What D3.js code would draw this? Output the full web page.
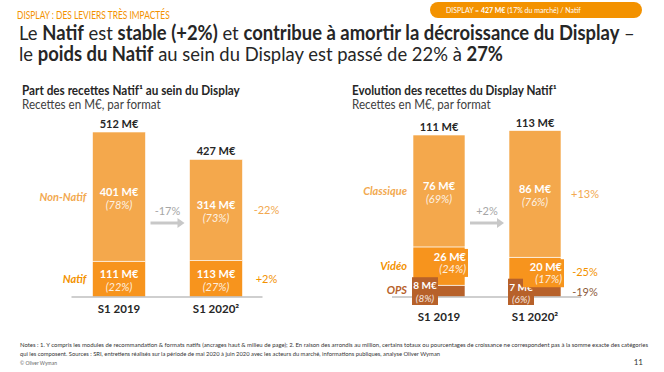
<!DOCTYPE html>
<html>
<head>
<meta charset="utf-8">
<script src="https://cdn.jsdelivr.net/npm/d3@7"></script>
<style>
  body { margin: 0; background: #fff; }
  svg { font-family: Lato, "Open Sans", sans-serif; }
</style>
</head>
<body>
<svg id="chart" width="664" height="372"></svg>
<script>
// ---------------- data ----------------
var categories = ["S1 2019", "S1 2020"];

// left chart : part du Natif
var natif = [111, 113];
var natifPct = ["22%", "27%"];
var nonNatif = [401, 314];
var nonNatifPct = ["78%", "73%"];
var leftTotals = ["512 M€", "427 M€"];
var leftGrowth = "-17%";
var nonNatifGrowth = "-22%";
var natifGrowth = "+2%";

// right chart : évolution du Natif par format
var ops = [8, 7];
var opsPct = ["8%", "6%"];
var video = [26, 20];
var videoPct = ["24%", "17%"];
var classique = [76, 86];
var classiquePct = ["69%", "76%"];
var rightTotals = ["111 M€", "113 M€"];
var rightGrowth = "+2%";
var classiqueGrowth = "+13%";
var videoGrowth = "-25%";
var opsGrowth = "-19%";

var footNotes = [
  "Notes : 1. Y compris les modules de recommandation & formats natifs (ancrages haut & milieu de page); 2. En raison des arrondis au million, certains totaux ou pourcentages de croissance ne correspondent pas à la somme exacte des catégories",
  "qui les composent. Sources : SRI, entretiens réalisés sur la période de mai 2020 à juin 2020 avec les acteurs du marché, informations publiques, analyse Oliver Wyman"
];

// colours
var cLight = "#F4A84C", cMid = "#F7941D", cDark = "#B7612A";
var cHead = "#F39200", cText = "#262626", cGrey = "#A6A6A6";

var svg = d3.select("#chart");

// text squeezed horizontally only (Lato is wider than the original Calibri)
function squeezed(parent, x, y, sx) {
  return parent.append("text")
    .attr("transform", "translate(" + x + "," + y + ") scale(" + sx + ",1)");
}

// ---------------- header ----------------
squeezed(svg, 17, 19, 0.8)
  .style("font-size", "10.5px").style("fill", cHead)
  .text("DISPLAY : DES LEVIERS TRÈS IMPACTÉS");

var pill = svg.append("g");
pill.append("rect").attr("x", 430).attr("y", 2).attr("width", 212).attr("height", 16)
  .attr("rx", 8).style("fill", cHead);
var pt = pill.append("text").attr("x", 446).attr("y", 13)
  .style("font-size", "7px").style("fill", "#fff");
pt.append("tspan").text("DISPLAY = ");
pt.append("tspan").style("font-weight", "bold").text("427 M€");
pt.append("tspan").text(" (17% du marché) / Natif");

// title, bold parts as tspans
var titleLines = [
  [["Le ", 0], ["Natif", 1], [" est ", 0], ["stable (+2%)", 1], [" et ", 0], ["contribue à amortir la décroissance du Display", 1], [" –", 0]],
  [["le ", 0], ["poids du Natif", 1], [" au sein du Display est passé de 22% à ", 0], ["27%", 1]]
];
var titleNodes = titleLines.map(function (line, i) {
  var t = svg.append("text")
    .style("font-size", "20px").style("fill", cText);
  line.forEach(function (p) {
    t.append("tspan").style("font-weight", p[1] ? "bold" : "normal").text(p[0]);
  });
  return t;
});
// one common horizontal factor so line 1 spans the same width as the reference
var titleSx = 616 / titleNodes[0].node().getComputedTextLength();
titleNodes.forEach(function (t, i) {
  t.attr("transform", "translate(19," + (40 + i * 21) + ") scale(" + titleSx + ",1)");
});

// ---------------- generic stacked chart ----------------
function drawStack(o) {
  var g = svg.append("g");

  // subtitles
  var st = squeezed(g, o.titleX, 95, 1)
    .style("font-size", "12.5px").style("font-weight", "bold").style("fill", cText)
    .text(o.title);
  st.attr("transform", "translate(" + o.titleX + ",95) scale(" + (o.titleW / st.node().getComputedTextLength()) + ",1)");
  squeezed(g, o.titleX, 109, 0.93)
    .style("font-size", "12.5px").style("fill", "#404040")
    .text("Recettes en M€, par format");

  var x = d3.scalePoint().domain(categories).range(o.xRange);
  var y = d3.scaleLinear().domain([0, o.yMax]).range([o.base, o.top]);
  var bw = o.barW;

  var stack = d3.stack().keys(o.series.map(function (s) { return s.key; }));
  var table = categories.map(function (c, i) {
    var row = { cat: c };
    o.series.forEach(function (s) { row[s.key] = s.values[i]; });
    return row;
  });
  var layers = stack(table);

  layers.forEach(function (layer, li) {
    var s = o.series[li];
    g.selectAll(null).data(layer).enter().append("rect")
      .attr("x", function (d) { return x(d.data.cat) - bw / 2; })
      .attr("y", function (d) { return y(d[1]); })
      .attr("width", bw)
      .attr("height", function (d) { return y(d[0]) - y(d[1]); })
      .style("fill", s.color)
      .style("stroke", "#fff").style("stroke-width", 0.6);
  });

  // axis line (under the label boxes)
  g.append("line")
    .attr("x1", x(categories[0]) - bw / 2 - 21).attr("x2", x(categories[1]) + bw / 2 + 20)
    .attr("y1", o.base).attr("y2", o.base)
    .style("stroke", "#BFBFBF").style("stroke-width", 1.5);

  // value labels (after all rects so boxes sit on top)
  layers.forEach(function (layer, li) {
    var s = o.series[li];
    layer.forEach(function (d, i) {
      var cx = x(d.data.cat), top = y(d[1]), bot = y(d[0]);
      var mid = (top + bot) / 2;
      var l1, l2, anchor, tx, fs = 11;
      if (s.mode === "right") {
        g.append("rect").attr("x", cx + bw / 2 - 38).attr("y", top + 2)
          .attr("width", 41).attr("height", 28).style("fill", s.color);
        anchor = "end"; tx = cx + bw / 2 + 1; l1 = top + 14; l2 = top + 26;
      } else if (s.mode === "left") {
        g.append("rect").attr("x", cx - bw / 2 - 1).attr("y", top - 8)
          .attr("width", 26).attr("height", o.base - top + 16).style("fill", s.color);
        anchor = "middle"; tx = cx - bw / 2 + 12; l1 = top + 4; l2 = top + 16.5; fs = 10;
      } else {
        anchor = "middle"; tx = cx; l1 = mid - 1; l2 = mid + 12;
      }
      g.append("text").attr("x", tx).attr("y", l1).attr("text-anchor", anchor)
        .style("font-size", fs + "px").style("font-weight", "bold").style("fill", "#fff")
        .text(s.values[i] + " M€");
      g.append("text").attr("x", tx).attr("y", l2).attr("text-anchor", anchor)
        .style("font-size", fs + "px").style("font-style", "italic").style("fill", "#fff")
        .style("opacity", 0.85)
        .text("(" + s.pcts[i] + ")");
    });

    // row label on the left of first bar
    var first = layer[0], last = layer[layer.length - 1];
    g.append("text")
      .attr("x", x(categories[0]) - bw / 2 - 6)
      .attr("y", (y(first[0]) + y(first[1])) / 2 + 4 + (s.labelDy || 0))
      .attr("text-anchor", "end")
      .style("font-size", "11px").style("font-weight", "bold").style("font-style", "italic")
      .style("fill", s.labelColor)
      .text(s.label);

    // growth on the right of last bar
    g.append("text")
      .attr("x", x(categories[categories.length - 1]) + bw / 2 + 24)
      .attr("y", (y(last[0]) + y(last[1])) / 2 + 4 + (s.growthDy || 0))
      .attr("text-anchor", "middle")
      .style("font-size", "11px").style("fill", s.growthColor)
      .text(s.growth);
  });

  // totals above bars
  g.selectAll(null).data(layers[layers.length - 1]).enter().append("text")
    .attr("x", function (d) { return x(d.data.cat); })
    .attr("y", function (d) { return y(d[1]) - 4; })
    .attr("text-anchor", "middle")
    .style("font-size", "11px").style("font-weight", "bold").style("fill", cText)
    .text(function (d, i) { return o.totals[i]; });

  // category labels
  g.selectAll(null).data(categories).enter().append("text")
    .attr("x", function (d) { return x(d); })
    .attr("y", o.base + o.catDy)
    .attr("text-anchor", "middle")
    .style("font-size", "11.5px").style("font-weight", "bold").style("fill", cText)
    .each(function (d, i) {
      d3.select(this).text(d + (i === 1 ? "²" : ""));
    });

  // growth arrow between bars
  var ax1 = x(categories[0]) + bw / 2 + 5, ax2 = x(categories[1]) - bw / 2 - 5;
  var ay = o.base - 74;
  g.append("line").attr("x1", ax1).attr("x2", ax2 - 6).attr("y1", ay).attr("y2", ay)
    .style("stroke", "#C8C8C8").style("stroke-width", 3);
  g.append("path")
    .attr("d", "M" + (ax2 - 7) + "," + (ay - 5) + "L" + ax2 + "," + ay + "L" + (ax2 - 7) + "," + (ay + 5) + "Z")
    .style("fill", "#C8C8C8");
  g.append("text").attr("x", (ax1 + ax2) / 2).attr("y", ay - 8).attr("text-anchor", "middle")
    .style("font-size", "11px").style("fill", cGrey)
    .text(o.growth);
}

drawStack({
  title: "Part des recettes Natif¹ au sein du Display",
  titleX: 22, titleW: 218,
  xRange: [119, 216], barW: 53,
  yMax: 512, base: 297, top: 132,
  catDy: 16,
  totals: leftTotals,
  growth: leftGrowth,
  series: [
    { key: "natif", values: natif, pcts: natifPct, color: cMid, mode: "center",
      label: "Natif", labelColor: cHead, growth: natifGrowth, growthColor: cHead },
    { key: "nonNatif", values: nonNatif, pcts: nonNatifPct, color: cLight, mode: "center",
      label: "Non-Natif", labelColor: "#F2A950", growth: nonNatifGrowth, growthColor: "#F2A950" }
  ]
});

drawStack({
  title: "Evolution des recettes du Display Natif¹",
  titleX: 352, titleW: 205,
  xRange: [439, 535], barW: 52,
  yMax: 110, base: 297, top: 135,
  catDy: 24,
  totals: rightTotals,
  growth: rightGrowth,
  series: [
    { key: "ops", values: ops, pcts: opsPct, color: cDark, mode: "left", labelDy: -1,
      label: "OPS", labelColor: cDark, growth: opsGrowth, growthColor: "#8C5A3A" },
    { key: "video", values: video, pcts: videoPct, color: cMid, mode: "right",
      label: "Vidéo", labelColor: cHead, growth: videoGrowth, growthColor: cHead },
    { key: "classique", values: classique, pcts: classiquePct, color: cLight, mode: "center",
      label: "Classique", labelColor: "#F2A950", growth: classiqueGrowth, growthColor: "#F2A950" }
  ]
});

// ---------------- footer ----------------
footNotes.forEach(function (n, i) {
  svg.append("text").attr("x", 20).attr("y", 347 + i * 8.5)
    .style("font-size", "6px").style("fill", "#333")
    .attr("textLength", i === 0 ? 628 : 420).attr("lengthAdjust", "spacingAndGlyphs")
    .text(n);
});
svg.append("text").attr("x", 20).attr("y", 365)
  .style("font-size", "5px").style("fill", "#666").text("© Oliver Wyman");
svg.append("text").attr("x", 643).attr("y", 365).attr("text-anchor", "end")
  .style("font-size", "8px").style("fill", "#333").text("11");
</script>
</body>
</html>
